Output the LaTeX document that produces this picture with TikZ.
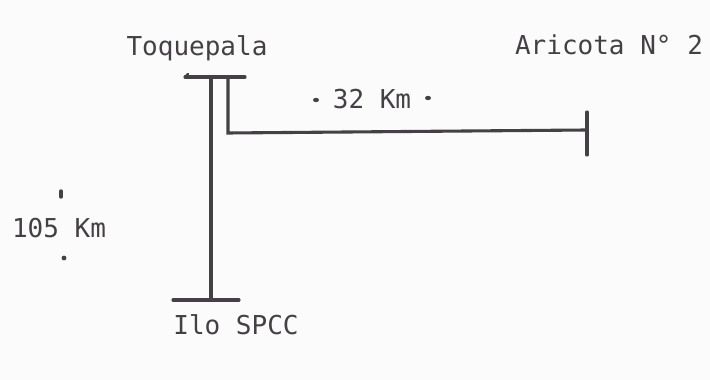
\documentclass[tikz,border=0pt]{standalone}
\usepackage{fontspec}
\setmonofont{DejaVu Sans Mono}
\usetikzlibrary{positioning}
\definecolor{ink}{HTML}{454045}
\definecolor{paper}{HTML}{FBFBFB}

\begin{document}
\begin{tikzpicture}[x=0.025cm,y=0.025cm,
   font=\ttfamily\fontsize{18.5}{22}\selectfont,
   line/.style={draw=ink,line width=2.2pt,line cap=round},
   lbl/.style={text=ink,inner sep=0pt},
   dot/.style={fill=ink,draw=none}]

  % ---- frame ----
  \fill[paper] (0,0) rectangle (710,380);
  \useasboundingbox (0,0) rectangle (710,380);

  % ---- bus points ----
  \coordinate (toqL) at (185,303);
  \coordinate (toqR) at (245,303);
  \coordinate (toqA) at (211,303);
  \coordinate (toqB) at (228,303);
  \coordinate (ilo) at (211,80);
  \coordinate (iloL) at (173,80);
  \coordinate (iloR) at (239,80);
  \coordinate (bend) at (228,247);
  \coordinate (ari) at (587,250);
  \coordinate (ariT) at (587,268);
  \coordinate (ariB) at (587,225);

  % ---- labels ----
  \node[lbl] (toq) at (197,332) {Toquepala};
  \node[lbl] (aritxt) at (609,335) {Aricota N° 2};
  \node[lbl] (ilotxt) at (236,55) {Ilo SPCC};
  \node[lbl] (d105) at (59,152) {105 Km};
  \node[lbl] (d32) at (372,281) {32 Km};

  % ---- bars ----
  \draw[line] (toqL) -- (toqR);
  \draw[line,line width=1.6pt] (toqL) -- ++(3,3);
  \draw[line] (iloL) -- (iloR);
  \draw[line] (ariT) -- (ariB);

  % ---- lines ----
  \draw[line] (toqA) -- (ilo);
  \draw[line] (toqB) -- (bend) -- (ari);

  % ---- distance marks ----
  \fill[dot] (316,280) ellipse (3 and 2.2);
  \fill[dot] (428,282) ellipse (3 and 2.2);
  \draw[line,line width=2.4pt] (61,183) -- (61,189);
  \fill[dot] (64,122) circle (2.4);
\end{tikzpicture}
\end{document}
